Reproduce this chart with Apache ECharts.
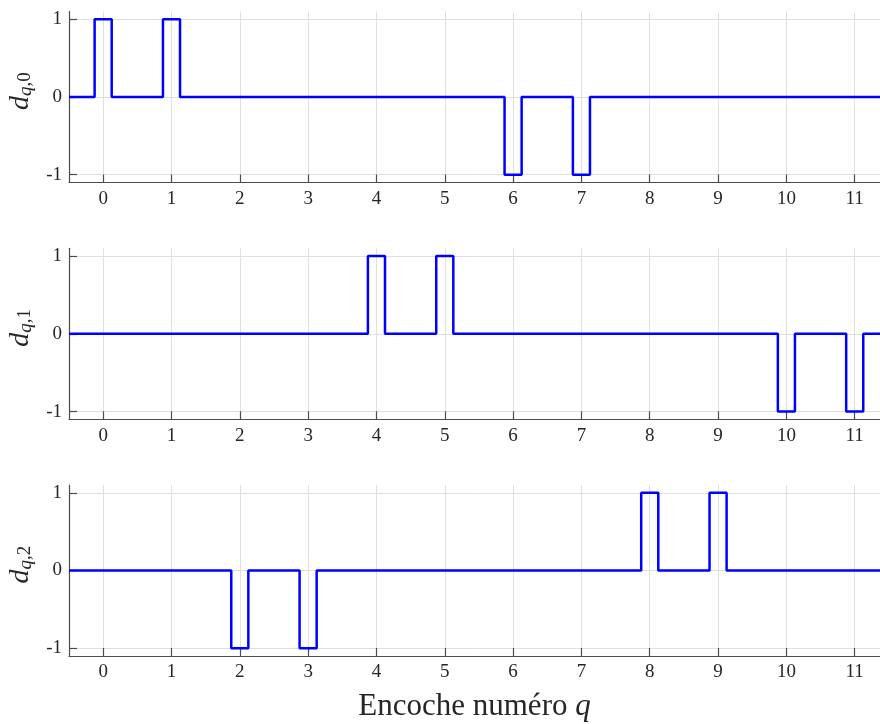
<!DOCTYPE html>
<html>
<head>
<meta charset="utf-8">
<script src="https://cdn.jsdelivr.net/npm/echarts@6/dist/echarts.min.js"></script>
<style>
html,body{margin:0;padding:0;background:#fff;}
#chart{width:880px;height:724px;}
</style>
</head>
<body>
<div id="chart"></div>
<script>
// ---- data ----
const qValues = [0, 1, 2, 3, 4, 5, 6, 7, 8, 9, 10, 11];
const d0 = [1, 1, 0, 0, 0, 0, -1, -1, 0, 0, 0, 0];
const d1 = [0, 0, 0, 0, 1, 1, 0, 0, 0, 0, -1, -1];
const d2 = [0, 0, -1, -1, 0, 0, 0, 0, 1, 1, 0, 0];
const pulseHalfWidth = 0.125;
const xTicks = [0, 1, 2, 3, 4, 5, 6, 7, 8, 9, 10, 11];
const yTicks = [-1, 0, 1];
const xRange = [-0.5, 11.37];
const yRange = [-1.1, 1.1];
const subscripts = ['0', '1', '2'];
const xTitle = 'Encoche numéro ';
const xTitleVar = 'q';

// ---- build pulse traces from data ----
function pulseTrace(vals) {
  const pts = [[xRange[0], 0]];
  qValues.forEach((q, i) => {
    const v = vals[i];
    if (v !== 0) {
      pts.push([q - pulseHalfWidth, 0], [q - pulseHalfWidth, v],
               [q + pulseHalfWidth, v], [q + pulseHalfWidth, 0]);
    }
  });
  pts.push([xRange[1] + 1, 0]);
  return pts;
}

const FONT = 'Liberation Serif';
const TXT = '#262626';
const AX = '#4d4d4d';
const GRIDC = '#e0e0e0';
const tops = [11.5, 248.3, 485];
const H = 171;
const allSeries = [d0, d1, d2];

const grids = [], xAxes = [], yAxes = [], series = [];
allSeries.forEach((vals, k) => {
  grids.push({ left: 69, right: 0, top: tops[k], height: H, containLabel: false, outerBoundsMode: 'none' });
  xAxes.push({
    type: 'value', gridIndex: k, min: xRange[0], max: xRange[1],
    axisLine: { show: true, onZero: false, lineStyle: { color: AX, width: 1.2 } },
    axisTick: { show: true, inside: true, length: 8, customValues: xTicks, lineStyle: { color: AX, width: 1.2 } },
    axisLabel: { customValues: xTicks, fontFamily: FONT, fontSize: 19, color: TXT, margin: 7 },
    splitLine: { show: true, lineStyle: { color: GRIDC, width: 1 } },
    name: k === 2 ? '{n|' + xTitle + '}{q|' + xTitleVar + '}' : '',
    nameLocation: 'middle', nameGap: 35,
    nameTextStyle: { rich: {
      n: { fontFamily: FONT, fontSize: 31, color: TXT },
      q: { fontFamily: FONT, fontSize: 31, color: TXT, fontStyle: 'italic' }
    } }
  });
  yAxes.push({
    type: 'value', gridIndex: k, min: yRange[0], max: yRange[1],
    axisLine: { show: true, onZero: false, lineStyle: { color: AX, width: 1.2 } },
    axisTick: { show: true, inside: true, length: 8, customValues: yTicks, lineStyle: { color: AX, width: 1.2 } },
    axisLabel: { customValues: yTicks, fontFamily: FONT, fontSize: 19, color: TXT, margin: 7 },
    splitLine: { show: true, lineStyle: { color: GRIDC, width: 1 } },
    name: '{d|d}{s|q}{t|,' + subscripts[k] + '}',
    nameLocation: 'middle', nameRotate: 90, nameGap: 34,
    nameTextStyle: { padding: [0, 0, 0, 12], rich: {
      d: { fontFamily: FONT, fontSize: 28, fontStyle: 'italic', color: TXT, lineHeight: 28 },
      s: { fontFamily: FONT, fontSize: 19, fontStyle: 'italic', color: TXT, verticalAlign: 'bottom', lineHeight: 14 },
      t: { fontFamily: FONT, fontSize: 19, color: TXT, verticalAlign: 'bottom', lineHeight: 14 }
    } }
  });
  series.push({
    type: 'line', xAxisIndex: k, yAxisIndex: k, data: pulseTrace(vals),
    showSymbol: false, symbol: 'none', animation: false, clip: true,
    lineStyle: { color: '#0000ff', width: 2.5 }
  });
});

const chart = echarts.init(document.getElementById('chart'), null, { renderer: 'canvas' });
chart.setOption({
  animation: false,
  backgroundColor: '#fff',
  grid: grids, xAxis: xAxes, yAxis: yAxes, series: series
});
</script>
</body>
</html>
